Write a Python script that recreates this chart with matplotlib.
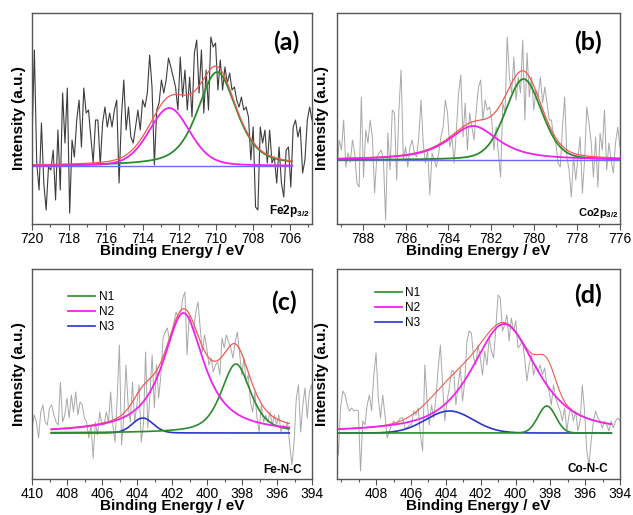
"""XPS fits: Fe2p3/2, Co2p3/2 and N1s of Fe-N-C / Co-N-C (four panels)."""

import numpy as np
import matplotlib
matplotlib.use("Agg")
import matplotlib.pyplot as plt
from matplotlib.ticker import MultipleLocator, FixedLocator

plt.rcParams["font.family"] = ["Liberation Sans", "DejaVu Sans"]
plt.rcParams["mathtext.fontset"] = "custom"
plt.rcParams["mathtext.rm"] = "Liberation Sans"
plt.rcParams["mathtext.bf"] = "Liberation Sans:bold"

# ---------------------------------------------------------------- data
# raw spectra, intensity above the fit baseline (a.u.), evenly spaced in BE
a_span = (720.0, 704.8)
a_raw = [26, 116, 3, -24, 43, -17, -44, -1, -4, 16, -34, 36, -24, 73, 23, 78, -47, 26, 9, 46,
         66, 19, 78, 53, 56, 29, 3, 46, 46, 1, 43, 59, 39, 53, 39, 56, 66, -17, 49, 86,
         36, 59, 29, 23, 39, 56, 36, 66, 59, 73, 111, 79, 1, 56, 63, 86, 73, 86, 108, 99,
         89, 79, 56, 109, 69, 96, 56, 89, 49, 113, 126, 73, 116, 53, 96, 56, 129, 119, 123, 76,
         106, 76, 99, 83, 93, 76, 79, 66, 59, 69, 56, 59, 49, 6, 39, -41, -44, 39, 23, 36,
         3, 36, 3, 9, -17, 19, -17, -31, 16, 19, -21, 39, 46, 29, 39, -7, 6, 46, 59, 46]

b_span = (789.2, 775.9)
b_raw = [-10, 20, 10, 40, -7, 7, -2, 20, 7, -23, -27, 63, -17, 30, 17, 40, 23, -33, 3, 7,
         10, 0, -60, 27, -10, 50, 47, -20, 50, 90, 0, 13, -7, 13, 20, 7, 3, 23, 60, 17,
         -3, 10, -35, 7, 0, -7, 7, 23, 33, 60, 47, 13, 23, -3, 30, 67, 85, 23, 57, 10,
         47, 33, 20, 50, 73, 80, 40, 60, 50, 53, 40, 10, 33, 7, -17, 57, 47, 123, 83, 67,
         103, 60, 83, 67, 120, 40, 107, 63, 83, 50, 70, 63, 83, 57, 73, 57, 40, 40, 23, 17,
         -3, -7, 33, 63, 3, -10, -37, 3, -20, 3, 23, -33, 0, 53, 37, 17, -17, 23, -27, 27,
         10, 50, -10, 17, 0, -13, 17, 33, 13, 30]

c_span = (410.0, 393.9)
c_raw = [5, 18, 11, -5, 21, 28, 11, 8, 25, 28, 18, 11, 8, 51, 11, 18, 35, 15, 38, 21,
         41, 18, 31, 28, 15, 11, -5, 8, -25, 11, -2, 21, 8, 8, 21, 11, 41, 8, -9, 35,
         88, -12, 15, 68, 28, 11, 51, 11, 28, 48, -9, 8, 81, 5, 38, 78, 25, 68, 35, 58,
         95, 101, 105, 91, 101, 111, 121, 115, 118, 135, 141, 78, 118, 108, 101, 121,
         131, 105, 81, 98, 85, 68, 75, 61, 68, 71, 58, 95, 85, 98, 91, 85, 75, 91, 101, 81,
         58, 75, 51, 58, 31, 21, 41, 15, 1, 28, 11, 18, 11, 21, 8, 18, 8, 18, 1, 8,
         5, 11, -12, -32, -9, 35, 48, 1, 28, 45, 15, 41, 48, 28]

d_span = (410.3, 394.0)
d_raw = [12, -22, 25, 42, 38, 28, 22, 25, 22, 23, 22, -38, 12, 8, 28, 38, 22, 58, 80, 35,
         15, 38, 18, -5, 2, 8, 12, 8, 12, 15, 15, 5, 5, 8, 8, 22, 18, 25, -2, -18,
         68, 32, 8, 28, 15, 35, 65, 88, 48, 12, 32, 45, 62, 62, 28, 48, 65, 32, 52, 92,
         102, 100, 75, 68, 88, 75, 58, 82, 68, 95, 82, 75, 105, 138, 135, 102, 108, 118, 92, 115,
         102, 112, 85, 88, 92, 75, 52, 68, 78, 58, 68, 62, 68, 58, 65, 48, 42, 28, 48, 35,
         28, 22, 12, 25, 2, 18, 25, 12, 22, 2, 12, 48, 22, -18, -32, -8, 12, 22, 15, 12,
         5, 12, 8, 2, 12, 5, 12, 15, 12]

# fitted components: (centre eV, height, FWHM eV, Lorentzian fraction)
a_green = (709.95, 94, 2.5, 0.55)
a_magenta = (712.55, 58, 2.6, 0.25)
b_green = (780.5, 81, 2.0, 0.25)
b_magenta = (782.85, 34, 2.8, 0.8)
c_n1 = (398.35, 69, 2.0, 0.6)
c_n2 = (401.35, 120, 2.8, 0.9)
c_n3 = (403.67, 15, 1.4, 0.1)
d_n1 = (398.2, 27, 1.2, 0.0)
d_n2 = (400.65, 109, 4.4, 0.7)
d_n3 = (403.8, 22, 3.2, 0.0)

GREEN = "#2b8c2b"
MAGENTA = "#f022ee"
RED = "#f05a50"
BLUE_DARK = "#2a35d0"
BLUE_LIGHT = "#6a6aff"


def pv(x, peak):
    c, h, w, eta = peak
    t = ((x - c) / w) ** 2
    return h * ((1 - eta) * np.exp(-4 * np.log(2) * t) + eta / (1 + 4 * t))


def style_axis(ax, xlim, ylim, major=None):
    ax.set_xlim(*xlim)
    ax.set_ylim(*ylim)
    if major is None:
        ax.xaxis.set_major_locator(MultipleLocator(2))
    else:
        ax.xaxis.set_major_locator(FixedLocator(major))
    ax.xaxis.set_minor_locator(MultipleLocator(1))
    ax.set_yticks([])
    ax.tick_params(axis="x", which="major", direction="out", length=4, width=0.8,
                   color="#555555", labelsize=10, pad=1.5)
    ax.tick_params(axis="x", which="minor", direction="out", length=2, width=0.8,
                   color="#555555")
    for s in ax.spines.values():
        s.set_color("#555555")
        s.set_linewidth(1.0)
    ax.set_xlabel("Binding Energy / eV", fontsize=11, fontweight="bold", labelpad=-1)


def tag(ax, s, x, y):
    ax.text(x, y, s, transform=ax.transAxes, family="Lato", fontweight="bold",
            fontsize=18, ha="center", va="center")


fig = plt.figure(figsize=(6.33, 5.15), dpi=100)
ax_a = fig.add_axes([0.0506, 0.5650, 0.4423, 0.4097])
ax_b = fig.add_axes([0.5324, 0.5650, 0.4471, 0.4097])
ax_c = fig.add_axes([0.0506, 0.0699, 0.4423, 0.4078])
ax_d = fig.add_axes([0.5324, 0.0699, 0.4471, 0.4078])

# ---- (a) Fe2p3/2
x = np.linspace(*a_span, len(a_raw))
ax_a.plot(x, a_raw, color="#3c3c3c", lw=0.8)
xf = np.linspace(720, 705.9, 400)
ax_a.plot(xf, np.zeros_like(xf), color=BLUE_LIGHT, lw=1.0)
ax_a.plot(xf, pv(xf, a_green), color=GREEN, lw=1.3)
ax_a.plot(xf, pv(xf, a_green) + pv(xf, a_magenta), color=RED, lw=0.9)
ax_a.plot(xf, pv(xf, a_magenta), color=MAGENTA, lw=1.3)
style_axis(ax_a, (720, 704.8), (-58, 153))
ax_a.set_ylabel("Intensity (a.u.)", fontsize=11, fontweight="bold", labelpad=4)
tag(ax_a, "(a)", 0.907, 0.862)
ax_a.text(0.993, 0.025, r"$\mathbf{Fe2p}_{\mathbf{3/2}}$", transform=ax_a.transAxes,
          fontsize=8.5, ha="right", va="bottom")

# ---- (b) Co2p3/2
x = np.linspace(*b_span, len(b_raw))
ax_b.plot(x, b_raw, color="#a8a8a8", lw=0.7)
xf = np.linspace(789.2, 776, 400)
ax_b.plot(xf, np.zeros_like(xf), color=BLUE_LIGHT, lw=1.0)
ax_b.plot(xf, pv(xf, b_green), color=GREEN, lw=1.3)
ax_b.plot(xf, pv(xf, b_green) + pv(xf, b_magenta), color=RED, lw=0.9)
ax_b.plot(xf, pv(xf, b_magenta), color=MAGENTA, lw=1.3)
style_axis(ax_b, (789.2, 776), (-64, 147))
ax_b.set_ylabel("Intensity (a.u.)", fontsize=11, fontweight="bold", labelpad=6)
tag(ax_b, "(b)", 0.887, 0.86)
ax_b.text(0.993, 0.02, r"$\mathbf{Co2p}_{\mathbf{3/2}}$", transform=ax_b.transAxes,
          fontsize=8, ha="right", va="bottom")

# ---- (c) Fe-N-C N1s
x = np.linspace(*c_span, len(c_raw))
ax_c.plot(x, c_raw, color="#a8a8a8", lw=0.7)
xf = np.linspace(408.9, 395.3, 400)
ax_c.plot(xf, pv(xf, c_n3), color=BLUE_DARK, lw=1.2, label="N3")
ax_c.plot(xf, pv(xf, c_n1), color=GREEN, lw=1.2, label="N1")
ax_c.plot(xf, pv(xf, c_n1) + pv(xf, c_n2) + pv(xf, c_n3), color=RED, lw=0.9)
ax_c.plot(xf, pv(xf, c_n2), color=MAGENTA, lw=1.3, label="N2")
style_axis(ax_c, (410, 394), (-46, 164))
ax_c.set_ylabel("Intensity (a.u.)", fontsize=11, fontweight="bold", labelpad=4)
tag(ax_c, "(c)", 0.9, 0.84)
ax_c.text(0.964, 0.015, "Fe-N-C", transform=ax_c.transAxes, fontsize=8.5,
          fontweight="bold", ha="right", va="bottom")

# ---- (d) Co-N-C N1s
x = np.linspace(*d_span, len(d_raw))
ax_d.plot(x, d_raw, color="#a8a8a8", lw=0.7)
xf = np.linspace(410.2, 394.5, 400)
ax_d.plot(xf, pv(xf, d_n3), color=BLUE_DARK, lw=1.2, label="N3")
ax_d.plot(xf, pv(xf, d_n1), color=GREEN, lw=1.2, label="N1")
ax_d.plot(xf, pv(xf, d_n1) + pv(xf, d_n2) + pv(xf, d_n3), color=RED, lw=0.8)
ax_d.plot(xf, pv(xf, d_n2), color=MAGENTA, lw=1.3, label="N2")
style_axis(ax_d, (410.25, 394), (-46, 164), major=list(range(408, 393, -2)))
ax_d.set_ylabel("Intensity (a.u.)", fontsize=11, fontweight="bold", labelpad=6)
tag(ax_d, "(d)", 0.887, 0.876)
ax_d.text(0.958, 0.02, "Co-N-C", transform=ax_d.transAxes, fontsize=8.5,
          fontweight="bold", ha="right", va="bottom")

for ax, anchor in ((ax_c, (0.129, 0.895)), (ax_d, (0.133, 0.914))):
    h, l = ax.get_legend_handles_labels()
    order = [l.index(n) for n in ("N1", "N2", "N3")]
    ax.legend([h[i] for i in order], [l[i] for i in order], loc="upper left",
              bbox_to_anchor=anchor, frameon=False, fontsize=8.5, handlelength=2.3,
              handletextpad=0.3, labelspacing=0.25, borderpad=0, borderaxespad=0)

fig.savefig("out.png", dpi=100)
